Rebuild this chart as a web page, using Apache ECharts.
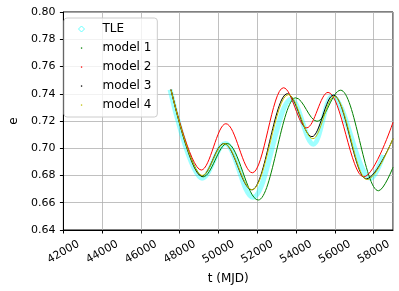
<!DOCTYPE html>
<html><head><meta charset="utf-8">
<script src="https://cdn.jsdelivr.net/npm/echarts@6/dist/echarts.min.js"></script>
<style>html,body{margin:0;padding:0;background:#fff}#c{width:399px;height:291px}</style>
</head><body><div id="c"></div>
<script>
// Axis ticks
const xTicks = [42000, 44000, 46000, 48000, 50000, 52000, 54000, 56000, 58000];
const yTicks = [0.64, 0.66, 0.68, 0.70, 0.72, 0.74, 0.76, 0.78, 0.80];
const xMax = 59000;

// Series (start, turning points, end)
const tleT = [47500, 49150, 50350, 51780, 53750, 54900, 55850, 57850, 58500];
const tleE = [0.743, 0.678, 0.7035, 0.664, 0.736, 0.703, 0.738, 0.678, 0.695];

const m1T = [47550, 49200, 50450, 52050, 53980, 55080, 56300, 58250, 59000];
const m1E = [0.743, 0.679, 0.7035, 0.662, 0.737, 0.7198, 0.7426, 0.6688, 0.686];

const m2T = [47550, 49110, 50380, 51750, 53350, 54550, 55650, 57490, 59000];
const m2E = [0.743, 0.684, 0.718, 0.682, 0.7444, 0.715, 0.741, 0.679, 0.719];

const m3T = [47550, 49130, 50280, 51720, 53550, 54820, 55930, 57620, 59000];
const m3E = [0.743, 0.6795, 0.7035, 0.6695, 0.740, 0.7085, 0.739, 0.6775, 0.707];

const m4T = [47550, 49150, 50300, 51740, 53600, 54870, 55970, 57660, 59000];
const m4E = [0.743, 0.680, 0.7034, 0.6695, 0.7394, 0.707, 0.738, 0.677, 0.707];

const names = ['TLE', 'model 1', 'model 2', 'model 3', 'model 4'];
const colors = ['rgba(0,255,255,0.38)', '#008000', '#ff0000', '#000000', '#bfbf00'];

function pairs(t, e) { return t.map((v, i) => [v, e[i]]); }
const seriesData = [pairs(tleT, tleE), pairs(m1T, m1E), pairs(m2T, m2E), pairs(m3T, m3E), pairs(m4T, m4E)];

const font = 'DejaVu Sans';
const chart = echarts.init(document.getElementById('c'), null, {renderer: 'canvas'});
const dotIcon = 'path://M0,0M24,8M7.4,3.4h1.3v1.3h-1.3Z';
const diaIcon = 'path://M0,0M24,8M8,1L11,4L8,7L5,4Z';

chart.setOption({
  animation: false,
  textStyle: {fontFamily: font},
  grid: {left: 58, right: 6, top: 12, bottom: 61, show: true, borderColor: '#000', borderWidth: 1, backgroundColor: 'transparent'},
  legend: {
    orient: 'vertical', left: 64, top: 18,
    padding: [4, 6, 5, 9], itemGap: 5, itemWidth: 24, itemHeight: 8,
    backgroundColor: 'rgba(255,255,255,0.8)', borderColor: '#cccccc', borderWidth: 1, borderRadius: 3,
    textStyle: {fontSize: 12, lineHeight: 14, color: '#000', fontFamily: font},
    data: [
      {name: names[0], icon: diaIcon, itemStyle: {color: 'transparent', borderColor: '#66ffff', borderWidth: 1}},
      {name: names[1], icon: dotIcon, itemStyle: {color: colors[1]}},
      {name: names[2], icon: dotIcon, itemStyle: {color: colors[2]}},
      {name: names[3], icon: dotIcon, itemStyle: {color: colors[3]}},
      {name: names[4], icon: dotIcon, itemStyle: {color: colors[4]}}
    ]
  },
  xAxis: {
    type: 'value', min: xTicks[0], max: xMax, interval: xTicks[1] - xTicks[0],
    name: 't (MJD)', nameLocation: 'middle', nameGap: 43,
    nameTextStyle: {fontSize: 12, color: '#000', fontFamily: font},
    axisLine: {show: true, lineStyle: {color: '#000', width: 1}},
    axisTick: {show: true, length: 3.5, lineStyle: {color: '#000'}},
    axisLabel: {fontSize: 11, color: '#000', rotate: 30, align: 'center', verticalAlign: 'middle', margin: 22, showMaxLabel: false, fontFamily: font,
      formatter: v => (xTicks.indexOf(v) >= 0 ? String(v) : '')},
    splitLine: {show: true, lineStyle: {color: '#b0b0b0', width: 0.8}}
  },
  yAxis: {
    type: 'value', min: yTicks[0], max: yTicks[yTicks.length - 1], interval: 0.02,
    name: 'e', nameLocation: 'middle', nameGap: 38,
    nameTextStyle: {fontSize: 12, color: '#000', fontFamily: font},
    axisLine: {show: true, lineStyle: {color: '#000', width: 1}},
    axisTick: {show: true, length: 3.5, lineStyle: {color: '#000'}},
    axisLabel: {fontSize: 11, color: '#000', margin: 8, fontFamily: font, formatter: v => v.toFixed(2)},
    splitLine: {show: true, lineStyle: {color: '#b0b0b0', width: 0.8}}
  },
  series: seriesData.map((d, i) => ({
    name: names[i], type: 'line', data: d, showSymbol: false, symbol: 'none',
    smooth: 0.36, smoothMonotone: 'x', clip: true,
    itemStyle: {color: colors[i]},
    lineStyle: {color: colors[i], width: i === 0 ? 5 : 1},
    z: 2 + i
  }))
});
</script></body></html>
